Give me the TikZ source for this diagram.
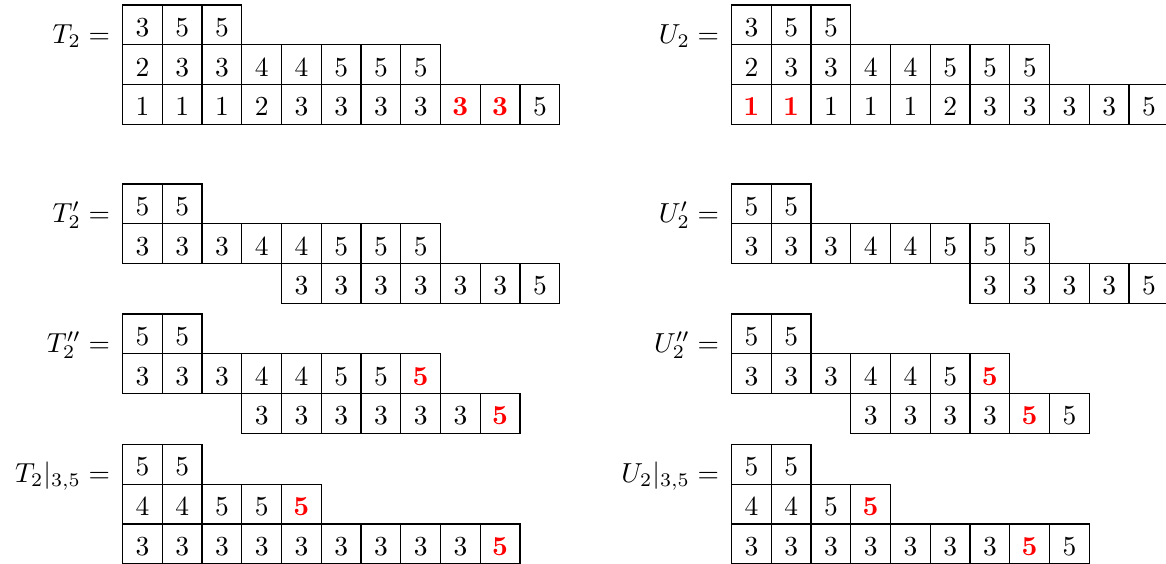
\documentclass[tikz,border=0pt]{standalone}
\usepackage{amsmath}
\newcommand{\rd}[1]{\textcolor{red}{\mathbf{#1}}}
% #1 name, #2 left x, #3 top y, #4 row, #5 start column, #6 entries
\newcommand{\yrow}[6]{%
  \foreach \v [count=\i from #5] in {#6} {%
    \node[cell] (#1-#4-\i) at ({#2+(\i+0.5)*39.75},{#3+(#4+0.5)*39.75}) {$\v$};
  }%
}
\begin{document}
\begin{tikzpicture}[x=0.36364pt,y=-0.36364pt,
  cell/.style={draw, line width=0.4pt, minimum width=14.455pt, minimum height=14.455pt,
    inner sep=0pt, text height=8.4pt, text depth=0pt, anchor=center},
  lbl/.style={anchor=base east, inner sep=0pt}]
\clip (0,0) rectangle (1166,563);
% ---- T2 / U2
\node[lbl] (lT2) at (110.5,43) {$T_2 =$};
\yrow{Ta}{122.5}{5}{0}{0}{3,5,5}
\yrow{Ta}{122.5}{5}{1}{0}{2,3,3,4,4,5,5,5}
\yrow{Ta}{122.5}{5}{2}{0}{1,1,1,2,3,3,3,3,\rd3,\rd3,5}
\node[lbl] (lU2) at (719.5,43) {$U_2 =$};
\yrow{Ua}{731.5}{5}{0}{0}{3,5,5}
\yrow{Ua}{731.5}{5}{1}{0}{2,3,3,4,4,5,5,5}
\yrow{Ua}{731.5}{5}{2}{0}{\rd1,\rd1,1,1,1,2,3,3,3,3,5}
% ---- T2' / U2'
\node[lbl] (lT2p) at (110.5,222) {$T_2' =$};
\yrow{Tb}{122.5}{184}{0}{0}{5,5}
\yrow{Tb}{122.5}{184}{1}{0}{3,3,3,4,4,5,5,5}
\yrow{Tb}{122.5}{184}{2}{4}{3,3,3,3,3,3,5}
\node[lbl] (lU2p) at (719.5,222) {$U_2' =$};
\yrow{Ub}{731.5}{184}{0}{0}{5,5}
\yrow{Ub}{731.5}{184}{1}{0}{3,3,3,4,4,5,5,5}
\yrow{Ub}{731.5}{184}{2}{6}{3,3,3,3,5}
% ---- T2'' / U2''
\node[lbl] (lT2pp) at (110.5,352) {$T_2'' =$};
\yrow{Tc}{122.5}{314}{0}{0}{5,5}
\yrow{Tc}{122.5}{314}{1}{0}{3,3,3,4,4,5,5,\rd5}
\yrow{Tc}{122.5}{314}{2}{3}{3,3,3,3,3,3,\rd5}
\node[lbl] (lU2pp) at (719.5,352) {$U_2'' =$};
\yrow{Uc}{731.5}{314}{0}{0}{5,5}
\yrow{Uc}{731.5}{314}{1}{0}{3,3,3,4,4,5,\rd5}
\yrow{Uc}{731.5}{314}{2}{3}{3,3,3,3,\rd5,5}
% ---- T2|3,5 / U2|3,5
\node[lbl] (lT2r) at (110.5,482.5) {$T_2|_{3,5} =$};
\yrow{Td}{122.5}{444.5}{0}{0}{5,5}
\yrow{Td}{122.5}{444.5}{1}{0}{4,4,5,5,\rd5}
\yrow{Td}{122.5}{444.5}{2}{0}{3,3,3,3,3,3,3,3,3,\rd5}
\node[lbl] (lU2r) at (719.5,482.5) {$U_2|_{3,5} =$};
\yrow{Ud}{731.5}{444.5}{0}{0}{5,5}
\yrow{Ud}{731.5}{444.5}{1}{0}{4,4,5,\rd5}
\yrow{Ud}{731.5}{444.5}{2}{0}{3,3,3,3,3,3,3,\rd5,5}
\end{tikzpicture}
\end{document}
